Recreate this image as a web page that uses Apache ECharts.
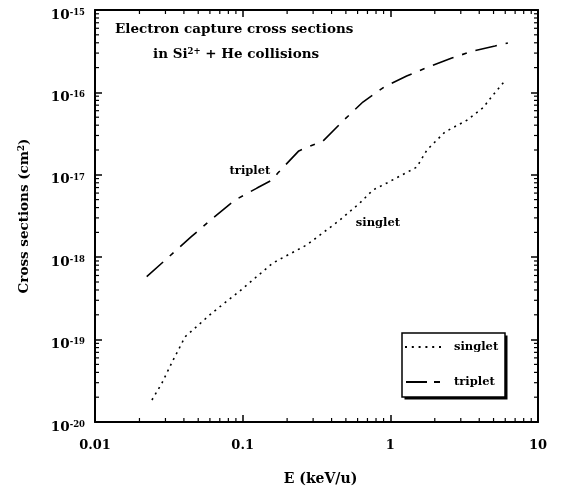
<!DOCTYPE html>
<html>
<head>
<meta charset="utf-8">
<script src="https://cdn.jsdelivr.net/npm/echarts@6/dist/echarts.min.js"></script>
<style>
  html, body { margin: 0; padding: 0; background: #fff; }
  #chart { width: 563px; height: 493px; }
</style>
</head>
<body>
<div id="chart"></div>
<script>
// values (E in keV/u, cross sections in cm^2)
var tripletE = [0.0224, 0.0447, 0.063, 0.0887, 0.125, 0.158, 0.173, 0.240, 0.299, 0.350,
                0.470, 0.652, 0.906, 1.29, 1.80, 2.61, 3.62, 5.11, 6.25];
var tripletSigma = [5.8e-19, 1.76e-18, 2.99e-18, 4.94e-18, 6.9e-18, 8.65e-18, 1.05e-17, 1.95e-17, 2.3e-17, 2.57e-17,
                    4.37e-17, 7.64e-17, 1.16e-16, 1.58e-16, 2.03e-16, 2.61e-16, 3.18e-16, 3.66e-16, 3.98e-16];
var singletE = [0.0243, 0.0284, 0.0338, 0.0388, 0.0407, 0.0619, 0.0959, 0.160, 0.272, 0.456,
                0.622, 0.762, 0.948, 1.51, 1.77, 2.34, 3.30, 4.24, 4.96, 5.88];
var singletSigma = [1.85e-20, 2.97e-20, 5.65e-20, 9.1e-20, 1.08e-19, 2.1e-19, 3.9e-19, 8.5e-19, 1.41e-18, 2.83e-18,
                    4.55e-18, 6.54e-18, 7.95e-18, 1.24e-17, 2.0e-17, 3.3e-17, 4.6e-17, 6.5e-17, 9.3e-17, 1.34e-16];
var xTickLabels = ['0.01', '0.1', '1', '10'];
var yExponents = [-20, -19, -18, -17, -16, -15];

var FONT = 'DejaVu Serif';
var dom = document.getElementById('chart');
var chart = echarts.init(dom);

function pairs(xs, ys) {
  return xs.map(function (x, i) { return [x, ys[i]]; });
}

function xLabel(v) {
  var e = Math.round(Math.log10(v));
  return xTickLabels[e + 2];
}
function yLabel(v) {
  var e = Math.round(Math.log10(v));
  if (yExponents.indexOf(e) < 0) return '';
  return '{b|10}{s|' + e + '}';
}

var axisLine = { show: true, onZero: false, lineStyle: { color: '#000', width: 2 } };
var majorTick = { show: true, inside: true, length: 7, lineStyle: { color: '#000', width: 1.5 } };
var supStyle = { fontFamily: FONT, fontWeight: 'bold', fontSize: 8.5, verticalAlign: 'top', color: '#000' };

chart.setOption({
  animation: false,
  backgroundColor: '#fff',
  textStyle: { fontFamily: FONT },
  grid: { left: 95, right: 25, top: 10, bottom: 71 },
  title: [
    {
      text: 'Electron capture cross sections',
      left: 115, top: 22, padding: 0,
      textStyle: { fontFamily: FONT, fontWeight: 'bold', fontSize: 13.5, color: '#000' }
    },
    {
      text: 'in Si{s|2+} + He collisions',
      left: 153, top: 47, padding: 0,
      textStyle: {
        fontFamily: FONT, fontWeight: 'bold', fontSize: 13.5, color: '#000',
        rich: { s: supStyle }
      }
    }
  ],
  legend: {
    orient: 'vertical',
    left: 402, top: 333,
    padding: [8, 0, 0, 3],
    itemGap: 23,
    itemWidth: 36, itemHeight: 2,
    textStyle: { fontFamily: FONT, fontWeight: 'bold', fontSize: 11.5, color: '#000', padding: [0, 0, 0, 8] },
    data: [
      { name: 'singlet', icon: 'path://M0 0h2v2h-2zM6.8 0h2v2h-2zM13.6 0h2v2h-2zM20.4 0h2v2h-2zM27.2 0h2v2h-2zM34 0h2v2h-2z' },
      { name: 'triplet', icon: 'path://M0 0h21v2h-21zM28 0h6v2h-6z' }
    ]
  },
  xAxis: [
    {
      type: 'log', logBase: 10, min: 0.01, max: 10,
      position: 'bottom',
      name: 'E (keV/u)', nameLocation: 'middle', nameGap: 50,
      nameTextStyle: { fontFamily: FONT, fontWeight: 'bold', fontSize: 14, color: '#000', padding: [0, 0, 0, 8] },
      axisLine: axisLine, axisTick: majorTick, splitLine: { show: false },
      axisLabel: { margin: 17, formatter: xLabel, fontFamily: FONT, fontWeight: 'bold', fontSize: 13, color: '#000' }
    },
    {
      type: 'log', logBase: 10, min: 0.01, max: 10,
      position: 'top',
      axisLine: axisLine, axisTick: majorTick, splitLine: { show: false },
      axisLabel: { show: false }
    }
  ],
  yAxis: [
    {
      type: 'log', logBase: 10, min: 1e-20, max: 1e-15,
      position: 'left',
      name: 'Cross sections (cm{s|2})', nameLocation: 'middle', nameGap: 64, nameRotate: 90,
      nameTextStyle: {
        fontFamily: FONT, fontWeight: 'bold', fontSize: 13.5, color: '#000',
        rich: { s: supStyle }
      },
      axisLine: axisLine, axisTick: majorTick, splitLine: { show: false },
      axisLabel: {
        margin: 10, formatter: yLabel, padding: [10, 0, 0, 0],
        rich: {
          b: { fontFamily: FONT, fontWeight: 'bold', fontSize: 13.5, color: '#000' },
          s: supStyle
        }
      }
    },
    {
      type: 'log', logBase: 10, min: 1e-20, max: 1e-15,
      position: 'right',
      axisLine: axisLine, axisTick: majorTick, splitLine: { show: false },
      axisLabel: { show: false }
    }
  ],
  series: [
    {
      name: 'singlet', type: 'line',
      data: pairs(singletE, singletSigma),
      showSymbol: false, symbol: 'none',
      lineStyle: { color: '#000', width: 1.6, type: [2, 4.5] },
      itemStyle: { color: '#000' }
    },
    {
      name: 'triplet', type: 'line',
      data: pairs(tripletE, tripletSigma),
      showSymbol: false, symbol: 'none',
      lineStyle: { color: '#000', width: 1.6, type: [22, 9, 5, 9] },
      itemStyle: { color: '#000' }
    }
  ]
});

// minor ticks (2..9 in each decade), legend frame and curve labels
setTimeout(function () {
  var g = [];
  var x0 = chart.convertToPixel({ xAxisIndex: 0 }, 0.01);
  var x1 = chart.convertToPixel({ xAxisIndex: 0 }, 10);
  var y0 = chart.convertToPixel({ yAxisIndex: 0 }, 1e-20);
  var y1 = chart.convertToPixel({ yAxisIndex: 0 }, 1e-15);
  var L = 4;
  function tick(xa, ya, xb, yb) {
    g.push({ type: 'line', silent: true, shape: { x1: xa, y1: ya, x2: xb, y2: yb },
             style: { stroke: '#000', lineWidth: 1.2 } });
  }
  for (var d = -2; d < 1; d++) {
    for (var k = 2; k < 10; k++) {
      var px = chart.convertToPixel({ xAxisIndex: 0 }, k * Math.pow(10, d));
      tick(px, y0, px, y0 - L);
      tick(px, y1, px, y1 + L);
    }
  }
  for (var e = -20; e < -15; e++) {
    for (var m = 2; m < 10; m++) {
      var py = chart.convertToPixel({ yAxisIndex: 0 }, m * Math.pow(10, e));
      tick(x0, py, x0 + L, py);
      tick(x1, py, x1 - L, py);
    }
  }
  // legend box with its drop shadow
  g.push({ type: 'rect', silent: true, z: 1, shape: { x: 404.5, y: 335.5, width: 103, height: 64 },
           style: { fill: '#000' } });
  g.push({ type: 'rect', silent: true, z: 2, shape: { x: 402, y: 333, width: 103, height: 64 },
           style: { fill: '#fff', stroke: '#000', lineWidth: 1.5 } });

  var lab = [
    { t: 'triplet', at: [0.112, 1.11e-17] },
    { t: 'singlet', at: [0.824, 2.6e-18] }
  ];
  lab.forEach(function (o) {
    var p = chart.convertToPixel({ xAxisIndex: 0, yAxisIndex: 0 }, o.at);
    g.push({ type: 'text', silent: true, x: p[0], y: p[1],
             style: { text: o.t, fill: '#000', font: 'bold 11.5px "' + FONT + '"', align: 'center', verticalAlign: 'middle' } });
  });
  chart.setOption({ graphic: g });
}, 0);
</script>
</body>
</html>
